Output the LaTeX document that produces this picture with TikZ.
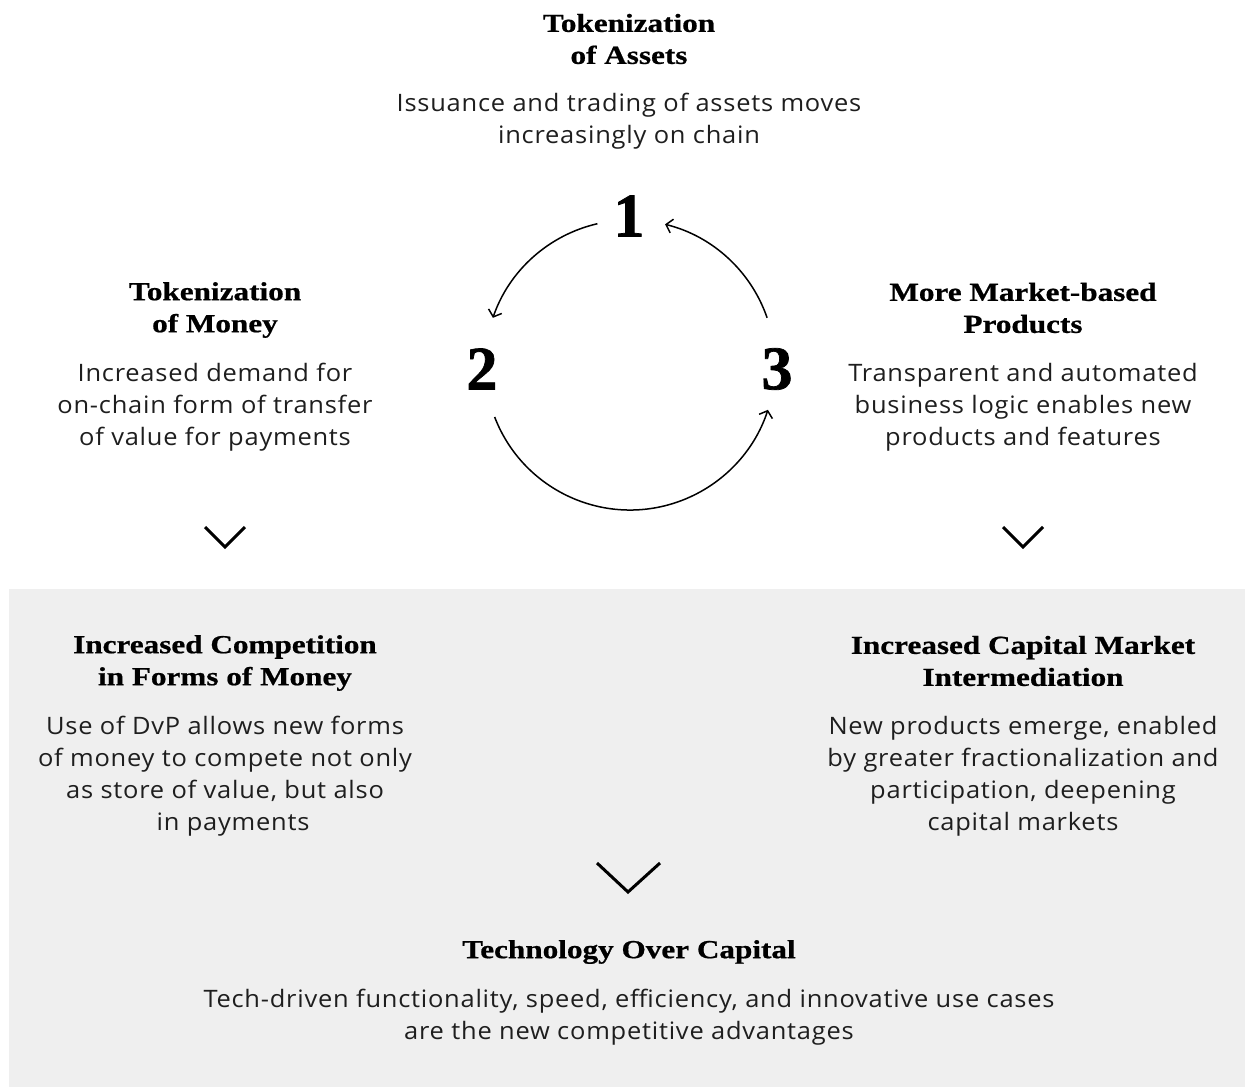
\documentclass[tikz,border=0pt]{standalone}
\usepackage{fontspec}
\usetikzlibrary{arrows.meta}
\setmainfont[FakeStretch=1.06,LetterSpace=3.2]{Open Sans}
\newfontfamily\headfont[FakeStretch=1.2,FakeBold=0.7]{Liberation Serif}
\newfontfamily\numfont[FakeBold=1.2]{Liberation Serif}
\definecolor{panel}{RGB}{239,239,239}
\definecolor{bodytext}{RGB}{30,30,30}
\tikzset{
  x=1pt, y=-1pt,
  head/.style={inner sep=0pt, align=center, font=\headfont\bfseries\fontsize{26}{32}\selectfont, text=black},
  body/.style={inner sep=0pt, align=center, font=\fontsize{24}{32}\selectfont, text=bodytext},
  num/.style={inner sep=0pt, font=\numfont\bfseries\fontsize{62}{62}\selectfont},
  cyc/.style={line width=1.5pt, -{Straight Barb[length=6pt,width=14pt,line width=1.5pt]}},
  chev/.style={line width=3pt, line join=miter},
}
\begin{document}
\begin{tikzpicture}
\useasboundingbox (0,0) rectangle (1247,1087);
\fill[panel] (9,589) rectangle (1245,1087);

% top block
\node[head] (h1) at (629,39) {Tokenization\\of Assets};
\node[body] (b1) at (629,121) {Issuance and trading of assets moves\\increasingly on chain};

% left block
\node[head] (h2) at (215,310) {Tokenization\\of Money};
\node[body] (b2) at (215,407) {Increased demand for\\on-chain form of transfer\\of value for payments};

% right block
\node[head] (h3) at (1023,308) {More Market-based\\Products};
\node[body] (b3) at (1023,407) {Transparent and automated\\business logic enables new\\products and features};

% numbers
\node[num] (n1) at (629,216) {1};
\node[num] (n2) at (482,369) {2};
\node[num] (n3) at (777,369) {3};
\coordinate (c) at (630,365);

\draw[cyc] ([shift={(-103:145)}]c) arc[start angle=-103, end angle=-161, radius=145];
\draw[cyc] ([shift={(-19:145)}]c) arc[start angle=-19, end angle=-76, radius=145];
\draw[cyc] ([shift={(-201:145)}]c) arc[start angle=-201, end angle=-342, radius=145];

% chevrons
\coordinate (cl) at (225,537);
\coordinate (cr) at (1023,537);
\coordinate (cb) at (628,877);
\draw[chev] ([shift={(-20,-10)}]cl) -- ([shift={(0,10)}]cl) -- ([shift={(20,-10)}]cl);
\draw[chev] ([shift={(-20,-10)}]cr) -- ([shift={(0,10)}]cr) -- ([shift={(20,-10)}]cr);
\draw[chev] ([shift={(-31,-14)}]cb) -- ([shift={(0,15)}]cb) -- ([shift={(32,-14)}]cb);

% lower blocks
\node[head] (h4) at (225,663) {Increased Competition\\in Forms of Money};
\node[body] (b4) at (225,776) {Use of DvP allows new forms\\of money to compete not only\\as store of value, but also\\\hspace{16pt}in payments};
\node[head] (h5) at (1023,661) {Increased Capital Market\\Intermediation};
\node[body] (b5) at (1023,776) {New products emerge, enabled\\by greater fractionalization and\\participation, deepening\\capital markets};

\node[head] (h6) at (629,952) {Technology Over Capital};
\node[body] (b6) at (629,1017) {Tech-driven functionality, speed, efficiency, and innovative use cases\\are the new competitive advantages};
\end{tikzpicture}
\end{document}
